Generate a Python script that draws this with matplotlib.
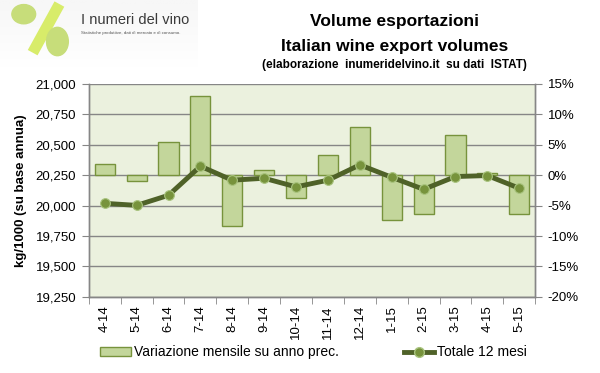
import matplotlib
matplotlib.use("Agg")

import matplotlib.pyplot as plt
import numpy as np
from matplotlib.lines import Line2D
from matplotlib.patches import Patch, Ellipse

plt.rcParams["font.family"] = ["Liberation Sans", "DejaVu Sans"]

months = ["4-14", "5-14", "6-14", "7-14", "8-14", "9-14", "10-14",
          "11-14", "12-14", "1-15", "2-15", "3-15", "4-15", "5-15"]
# monthly change vs previous year (%), right axis
monthly_change = [1.8, -1.0, 5.4, 13.0, -8.3, 0.8, -3.8,
                  3.3, 7.9, -7.3, -6.3, 6.6, 0.3, -6.3]
# rolling 12-month total (kg/1000), left axis
total_12m = [20019, 20002, 20085, 20324, 20209, 20225, 20154,
             20209, 20335, 20233, 20134, 20239, 20247, 20143]

left_ticks = [19250, 19500, 19750, 20000, 20250, 20500, 20750, 21000]
right_ticks = [-20, -15, -10, -5, 0, 5, 10, 15]

bg = "#EBF1DE"
bar_fill = "#C3D69B"
bar_edge = "#77933C"
line_col = "#4F6228"
marker_col = "#77933C"
grid_col = "#868686"

fig = plt.figure(figsize=(6.0, 3.73), dpi=100)
ax = fig.add_axes([0.148, 0.204, 0.744, 0.571])
ax2 = ax.twinx()

x = np.arange(len(months))

# bars on the right (percent) axis, drawn behind the line
ax2.set_zorder(1)
ax.set_zorder(2)
ax.patch.set_visible(False)
ax2.patch.set_facecolor(bg)
ax2.patch.set_visible(True)

ax2.bar(x, monthly_change, width=0.63, color=bar_fill, edgecolor=bar_edge,
        linewidth=1.0, zorder=3)
ax2.set_ylim(-20, 15)
ax2.set_yticks(right_ticks)
ax2.set_yticklabels([f"{t}%" for t in right_ticks], fontsize=9.5)
for t in right_ticks:
    ax2.axhline(t, color=grid_col, linewidth=1.0, zorder=1)

ax.plot(x, total_12m, color=line_col, linewidth=3.5, marker="o",
        markersize=7, markerfacecolor=marker_col, markeredgecolor="#A9C47F",
        markeredgewidth=0.8, zorder=5)
ax.set_ylim(19250, 21000)
ax.set_yticks(left_ticks)
ax.set_yticklabels([f"{t:,}" for t in left_ticks], fontsize=9.5)
ax.set_xlim(-0.5, len(months) - 0.5)
ax.set_xticks(x)
ax.set_xticklabels(months, rotation=90, fontsize=9.5)
ax.set_xticks(np.arange(-0.5, len(months), 1.0), minor=True)
ax.tick_params(axis="x", which="major", length=0, pad=6)
ax.tick_params(axis="x", which="minor", length=5, color=grid_col)
ax.tick_params(axis="y", length=5, color=grid_col, pad=4)
ax2.tick_params(axis="y", length=5, color=grid_col, pad=4)
ax.set_ylabel("kg/1000 (su base annua)", fontsize=9.5, fontweight="bold",
              labelpad=6)

for a in (ax, ax2):
    a.spines["top"].set_visible(False)
    for s in ("left", "right", "bottom"):
        a.spines[s].set_color(grid_col)
        a.spines[s].set_linewidth(1.0)

# titles
fig.text(0.658, 0.943, "Volume esportazioni", ha="center", va="center",
         fontsize=12.5, fontweight="bold")
fig.text(0.658, 0.875, "Italian wine export volumes", ha="center",
         va="center", fontsize=12.5, fontweight="bold")
fig.text(0.658, 0.826, "(elaborazione  inumeridelvino.it  su dati  ISTAT)",
         ha="center", va="center", fontsize=8.5, fontweight="bold")

# logo (approximate)
logo = fig.add_axes([0.0, 0.81, 0.33, 0.19])
logo.set_xlim(0, 200)
logo.set_ylim(70, 0)
logo.axis("off")
grad = np.linspace(0.93, 1.0, 50).reshape(-1, 1)
logo.imshow(grad, cmap="Greys_r", vmin=0, vmax=1, extent=[0, 200, 70, 0],
            aspect="auto", zorder=0)
logo.plot([33, 60], [52, 4], color="#D8EC6A", linewidth=8,
          solid_capstyle="butt", zorder=1)
logo.add_patch(Ellipse((24, 14), 24, 19, color="#C7DD7A", zorder=2))
logo.add_patch(Ellipse((58, 41), 22, 28, color="#C7DD7A", zorder=2))
logo.text(82, 20, "I numeri del vino", fontsize=10.5, color="#3A3A3A",
          va="center", zorder=3)
logo.text(82, 33, "Statistiche produttive, dati di mercato e di consumo.",
          fontsize=3.2, color="#555555", va="center", zorder=3)

handles = [Patch(facecolor=bar_fill, edgecolor=bar_edge, linewidth=1.0),
           Line2D([0], [0], color=line_col, linewidth=3.5, marker="o",
                  markersize=7, markerfacecolor=marker_col,
                  markeredgecolor="#A9C47F")]
fig.legend(handles, ["Variazione mensile su anno prec.", "Totale 12 mesi"],
           loc="center", bbox_to_anchor=(0.523, 0.055), ncol=2, frameon=False,
           fontsize=10, handlelength=2.2, handletextpad=0.2,
           columnspacing=4.7)

fig.savefig("out.png", dpi=100)
